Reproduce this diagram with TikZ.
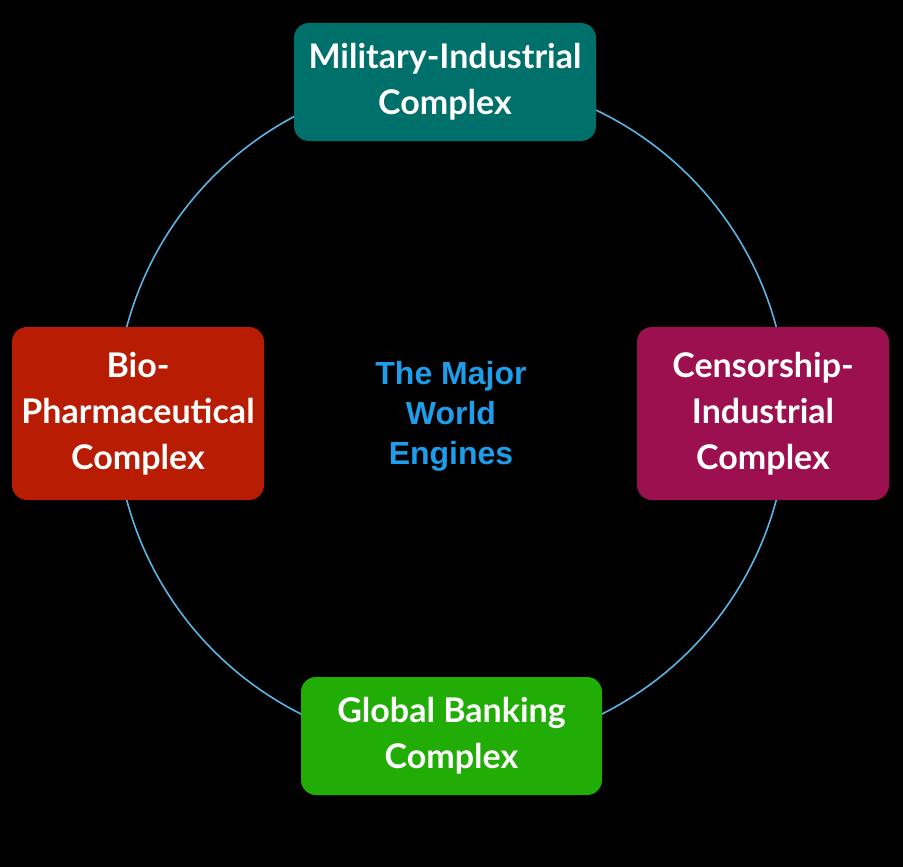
\documentclass[tikz,border=0pt]{standalone}
\usepackage{fontspec}
\setmainfont{Lato}[BoldFont={Lato Bold}]
\newfontfamily\centerfont{Liberation Sans}[BoldFont={Liberation Sans Bold}]
\definecolor{teal}{HTML}{00706A}
\definecolor{bred}{HTML}{B81C02}
\definecolor{mag}{HTML}{9C1050}
\definecolor{bgreen}{HTML}{22AD06}
\definecolor{ring}{HTML}{5AB4E6}
\definecolor{ctext}{HTML}{1E9DEB}
\tikzset{
  boxnode/.style={rounded corners=15pt, inner sep=0pt, align=center, text=white,
    font=\bfseries\fontsize{34}{46}\selectfont},
}
\begin{document}
\begin{tikzpicture}[x=1pt,y=-1pt]
\fill[black] (0,0) rectangle (903,867);
\useasboundingbox (0,0) rectangle (903,867);
\draw[ring, line width=1.6pt] (451.5,413.5) circle[radius=336pt];
\node[boxnode, fill=teal, minimum width=302pt, minimum height=118pt] (mil) at (445,82) {Military-Industrial\\Complex};
\node[boxnode, fill=bred, minimum width=252pt, minimum height=173pt] (bio) at (138,413.5) {Bio-\\Pharmaceutical\\Complex};
\node[boxnode, fill=mag, minimum width=252pt, minimum height=173pt] (cen) at (763,413.5) {Censorship-\\Industrial\\Complex};
\node[boxnode, fill=bgreen, minimum width=301pt, minimum height=118pt] (bank) at (451.5,736) {Global Banking\\Complex};
\node[align=center, text=ctext, font=\centerfont\bfseries\fontsize{32}{40}\selectfont] (title) at (451,416) {The Major\\World\\Engines};
\end{tikzpicture}
\end{document}
